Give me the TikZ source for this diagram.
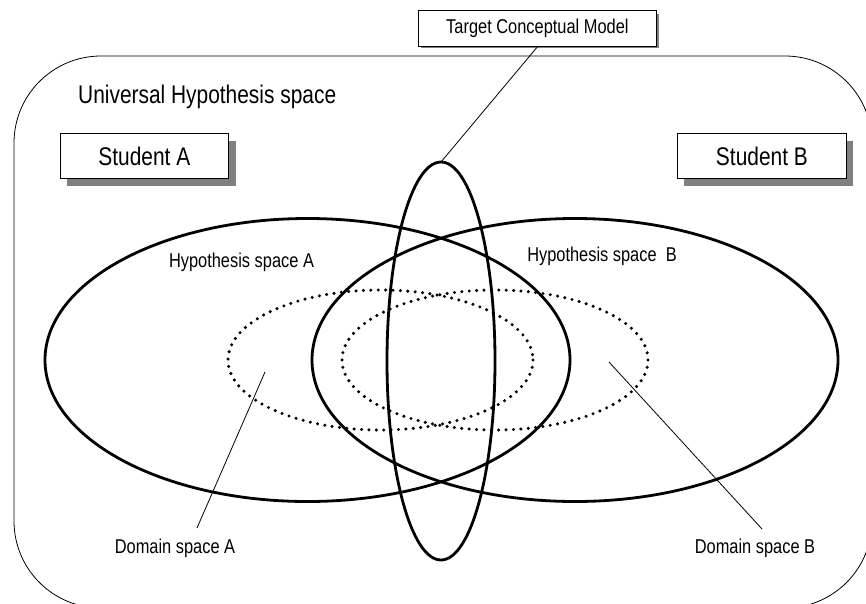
\documentclass[tikz,border=0pt]{standalone}
\usepackage{fontspec}
\newfontfamily\narrowsf{Liberation Sans}[FakeStretch=0.82]
\begin{document}
\begin{tikzpicture}[x=1pt,y=-1pt,
  thick ell/.style={draw=black,line width=2.8pt},
  dot ell/.style={draw=black,line width=3.4pt,line cap=round,dash pattern=on 0pt off 7.4pt},
  thin line/.style={draw=black,line width=0.8pt},
  big label/.style={font=\narrowsf\fontsize{25.5}{28}\selectfont,inner sep=0pt},
  small label/.style={font=\narrowsf\fontsize{20}{22}\selectfont,inner sep=0pt},
  shadow box/.style={fill=black!50,draw=none},
  front box/.style={fill=white,draw=black,line width=0.8pt}
]
\useasboundingbox (0,0) rectangle (866,603);
\begin{scope}
\clip (0,0) rectangle (866,603);
\draw[thin line,rounded corners=87pt] (14,56) rectangle (872,608);
\end{scope}

% Universal label
\node[big label,anchor=west] (univ) at (78,97) {Universal Hypothesis space};

% Student boxes
\fill[shadow box] (67,141) rectangle (236,186);
\node[front box,minimum width=168pt,minimum height=45pt,inner sep=0pt,anchor=north west,font=\narrowsf\fontsize{25.5}{28}\selectfont] (stuA) at (60,133) {Student A};
\fill[shadow box] (684,141) rectangle (853,186);
\node[front box,minimum width=169pt,minimum height=45pt,inner sep=0pt,anchor=north west,font=\narrowsf\fontsize{25.5}{28}\selectfont] (stuB) at (677,133) {Student B};

% Hypothesis ellipses
\draw[thick ell] (307.5,360) ellipse [x radius=262.5,y radius=141.5];
\draw[thick ell] (575,360) ellipse [x radius=263,y radius=141.5];
% Domain ellipses
\draw[dot ell] (380.5,360) ellipse [x radius=152.5,y radius=70];
\draw[dot ell] (495,360) ellipse [x radius=153,y radius=70];
% Target ellipse
\draw[thick ell] (441,361) ellipse [x radius=54,y radius=199];
\coordinate (ttop) at (441,162);

% Target box
\fill[shadow box] (421,14) rectangle (659,48);
\node[front box,minimum width=238pt,minimum height=36pt,inner sep=0pt,anchor=north west,font=\narrowsf\fontsize{20}{22}\selectfont] (target) at (418,10) {Target Conceptual Model};
\draw[thin line] (ttop) -- (target.south);

% Labels
\node[small label] (hA) at (241.5,262) {Hypothesis space A};
\node[small label] (hB) at (602,256) {Hypothesis space\ \ B};
\node[small label] (dA) at (175,548) {Domain space A};
\node[small label] (dB) at (755,548) {Domain space B};
\coordinate (pA) at (265,372);
\coordinate (eA) at (197,528);
\coordinate (pB) at (609,362);
\coordinate (eB) at (762,529);
\draw[thin line] (pA) -- (eA);
\draw[thin line] (pB) -- (eB);
\end{tikzpicture}
\end{document}
